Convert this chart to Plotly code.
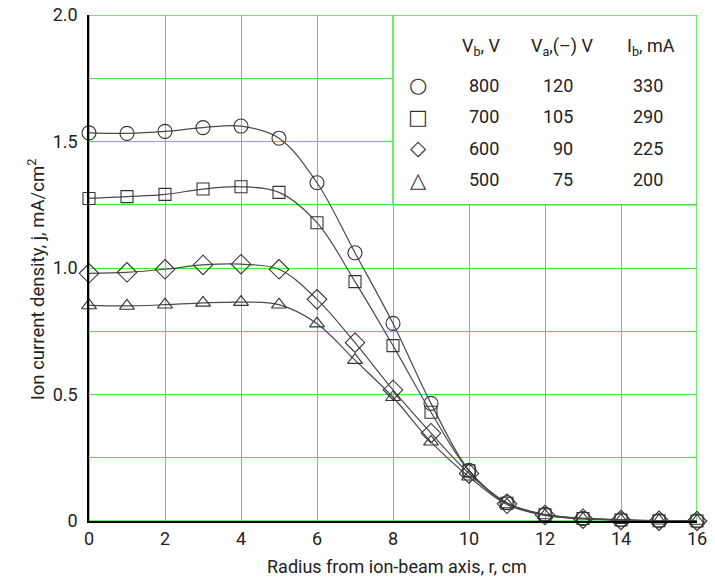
import plotly.graph_objects as go

radius = list(range(0, 17))
j_800 = [1.534, 1.532, 1.540, 1.555, 1.561, 1.513, 1.337, 1.060, 0.781, 0.465, 0.200, 0.072, 0.026, 0.010, 0.005, 0.001, 0.000]
j_700 = [1.275, 1.282, 1.291, 1.312, 1.321, 1.299, 1.179, 0.946, 0.693, 0.430, 0.198, 0.070, 0.025, 0.010, 0.004, 0.001, 0.000]
j_600 = [0.979, 0.983, 0.995, 1.012, 1.015, 0.995, 0.876, 0.705, 0.518, 0.347, 0.188, 0.068, 0.024, 0.009, 0.004, 0.001, 0.000]
j_500 = [0.852, 0.850, 0.855, 0.862, 0.865, 0.855, 0.780, 0.636, 0.489, 0.313, 0.175, 0.065, 0.022, 0.008, 0.003, 0.001, 0.000]

series = [
    ("800 V", j_800, "circle-open", 14),
    ("700 V", j_700, "square-open", 12),
    ("600 V", j_600, "diamond-open", 15),
    ("500 V", j_500, "triangle-up-open", 13),
]

legend_header = ["V<sub>b</sub>, V", "V<sub>a</sub>,(–) V", "I<sub>b</sub>, mA"]
legend_symbols = ["○", "□", "◇", "△"]
Vb = ["800", "700", "600", "500"]
Va = ["120", "105", "90", "75"]
Ib = ["330", "290", "225", "200"]

x_title = "Radius from ion-beam axis, r, cm"
y_title = "Ion current density, j, mA/cm<sup>2</sup>"

GREEN = "#3ee83e"
FONT = "Roboto, Open Sans, sans-serif"

fig = go.Figure()
for name, ys, sym, sz in series:
    fig.add_trace(go.Scatter(
        x=radius, y=ys, name=name, mode="lines+markers",
        line=dict(color="#4a4a4a", width=1.2, shape="spline", smoothing=1.0),
        marker=dict(symbol=sym, size=sz, color="#333333", line=dict(width=1.1, color="#333333")),
        cliponaxis=False, showlegend=False,
    ))

fig.add_shape(type="rect", x0=8, x1=16, y0=1.25, y1=2.0, xref="x", yref="y",
              fillcolor="white", line=dict(color=GREEN, width=1.5), layer="between")
fig.add_shape(type="rect", x0=0, x1=16, y0=0, y1=2.0, xref="x", yref="y",
              line=dict(color=GREEN, width=1.5), layer="below")

hdr_x = [10.34, 12.45, 14.79]
row_y = [1.723, 1.597, 1.474, 1.348]
for hx, h in zip(hdr_x, legend_header):
    fig.add_annotation(x=hx, y=1.874, text=h, showarrow=False, xanchor="center", yanchor="middle",
                       font=dict(family=FONT, size=18, color="#222"))
for i, ry in enumerate(row_y):
    fig.add_annotation(x=8.66, y=ry, text=legend_symbols[i], showarrow=False, xanchor="center",
                       yanchor="middle", font=dict(family="DejaVu Sans", size=21, color="#333"))
    fig.add_annotation(x=10.39, y=ry, text=Vb[i], showarrow=False, xanchor="center", yanchor="middle",
                       font=dict(family=FONT, size=18, color="#222"))
    fig.add_annotation(x=12.79, y=ry, text=Va[i], showarrow=False, xanchor="right", yanchor="middle",
                       font=dict(family=FONT, size=18, color="#222"))
    fig.add_annotation(x=14.71, y=ry, text=Ib[i], showarrow=False, xanchor="center", yanchor="middle",
                       font=dict(family=FONT, size=18, color="#222"))

# axis titles
fig.add_annotation(x=0.5066, y=-0.089, xref="paper", yref="paper", text=x_title, showarrow=False,
                   xanchor="center", yanchor="middle", font=dict(family=FONT, size=18, color="#222"))
fig.add_annotation(x=-0.087, y=0.478, xref="paper", yref="paper", text=y_title, showarrow=False,
                   textangle=-90, xanchor="center", yanchor="middle",
                   font=dict(family=FONT, size=18.5, color="#222"))

fig.update_layout(
    width=715, height=579,
    margin=dict(l=89, r=18, t=15, b=58, autoexpand=False),
    paper_bgcolor="white", plot_bgcolor="white",
    font=dict(family=FONT, size=18, color="#222"),
)
fig.update_xaxes(
    range=[0, 16], dtick=2, tick0=0, showgrid=True, gridcolor=GREEN, gridwidth=1,
    showline=True, linecolor="black", linewidth=1.5, zeroline=False,
    ticks="outside", ticklen=1, tickcolor="rgba(0,0,0,0)",
    tickfont=dict(size=18), ticklabeloverflow="allow",
)
fig.update_yaxes(
    range=[0, 2.0], tickvals=[0, 0.5, 1.0, 1.5, 2.0], ticktext=["0", "0.5", "1.0", "1.5", "2.0"],
    showgrid=True, gridcolor=GREEN, gridwidth=1,
    minor=dict(dtick=0.25, showgrid=True, gridcolor=GREEN, gridwidth=1),
    showline=True, linecolor="black", linewidth=1.5, zeroline=False,
    ticks="outside", ticklen=6, tickcolor="rgba(0,0,0,0)",
    tickfont=dict(size=18), ticklabeloverflow="allow",
)

fig.write_html("out.html",
               config={"displayModeBar": False},
               post_script="document.body.style.margin='0';document.body.style.overflow='hidden';")
